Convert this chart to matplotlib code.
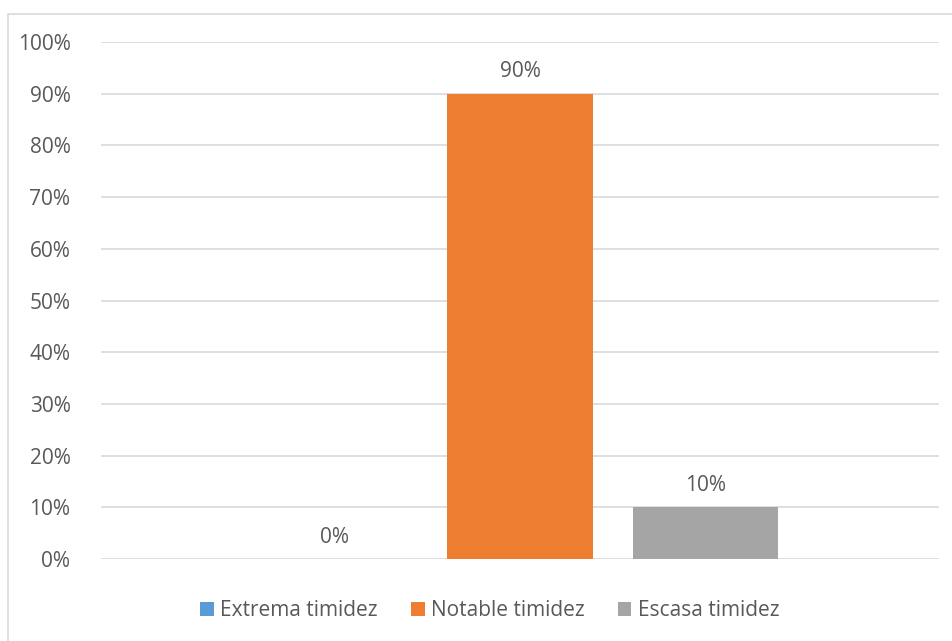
import matplotlib.pyplot as plt
from matplotlib.patches import Rectangle

series = ['Extrema timidez', 'Notable timidez', 'Escasa timidez']
values = [0, 90, 10]
colors = ['#5B9BD5', '#ED7D31', '#A5A5A5']
ticks = list(range(0, 101, 10))

plt.rcParams['font.family'] = ['Open Sans', 'DejaVu Sans']
txt = '#595959'
fs = 15

fig = plt.figure(figsize=(9.53, 6.41), dpi=100)
fig.patches.append(Rectangle((8/953, -0.1), 1.2, (641-14)/641 + 0.1,
                             transform=fig.transFigure, fill=False,
                             edgecolor='#D9D9D9', linewidth=1.2))
ax = fig.add_axes([101/953, 82/641, 838/953, 517/641])

step = 0.2214
width = 0.174
for i, (name, v, c) in enumerate(zip(series, values, colors)):
    x = (i - 1) * step
    ax.bar(x, v, width=width, color=c, label=name, zorder=3)
    ax.text(x, v + 2.2, f'{v}%', ha='center', va='bottom',
            fontsize=fs, color=txt)

ax.set_xlim(-0.5, 0.5)
ax.set_ylim(0, 100)
ax.set_yticks(ticks)
ax.set_yticklabels([f'{t}%' for t in ticks], fontsize=fs, color=txt)
ax.set_xticks([])
ax.tick_params(axis='y', length=0, pad=22)
ax.grid(axis='y', color='#D9D9D9', linewidth=1.2, zorder=0)
for s in ax.spines.values():
    s.set_visible(False)

ax.legend(loc='center', bbox_to_anchor=(0.464, -0.1), ncol=3, frameon=False,
          fontsize=fs, labelcolor=txt, handlelength=0.65, handleheight=0.65,
          handletextpad=0.3, columnspacing=1.6)

fig.savefig('out.png', dpi=100)
